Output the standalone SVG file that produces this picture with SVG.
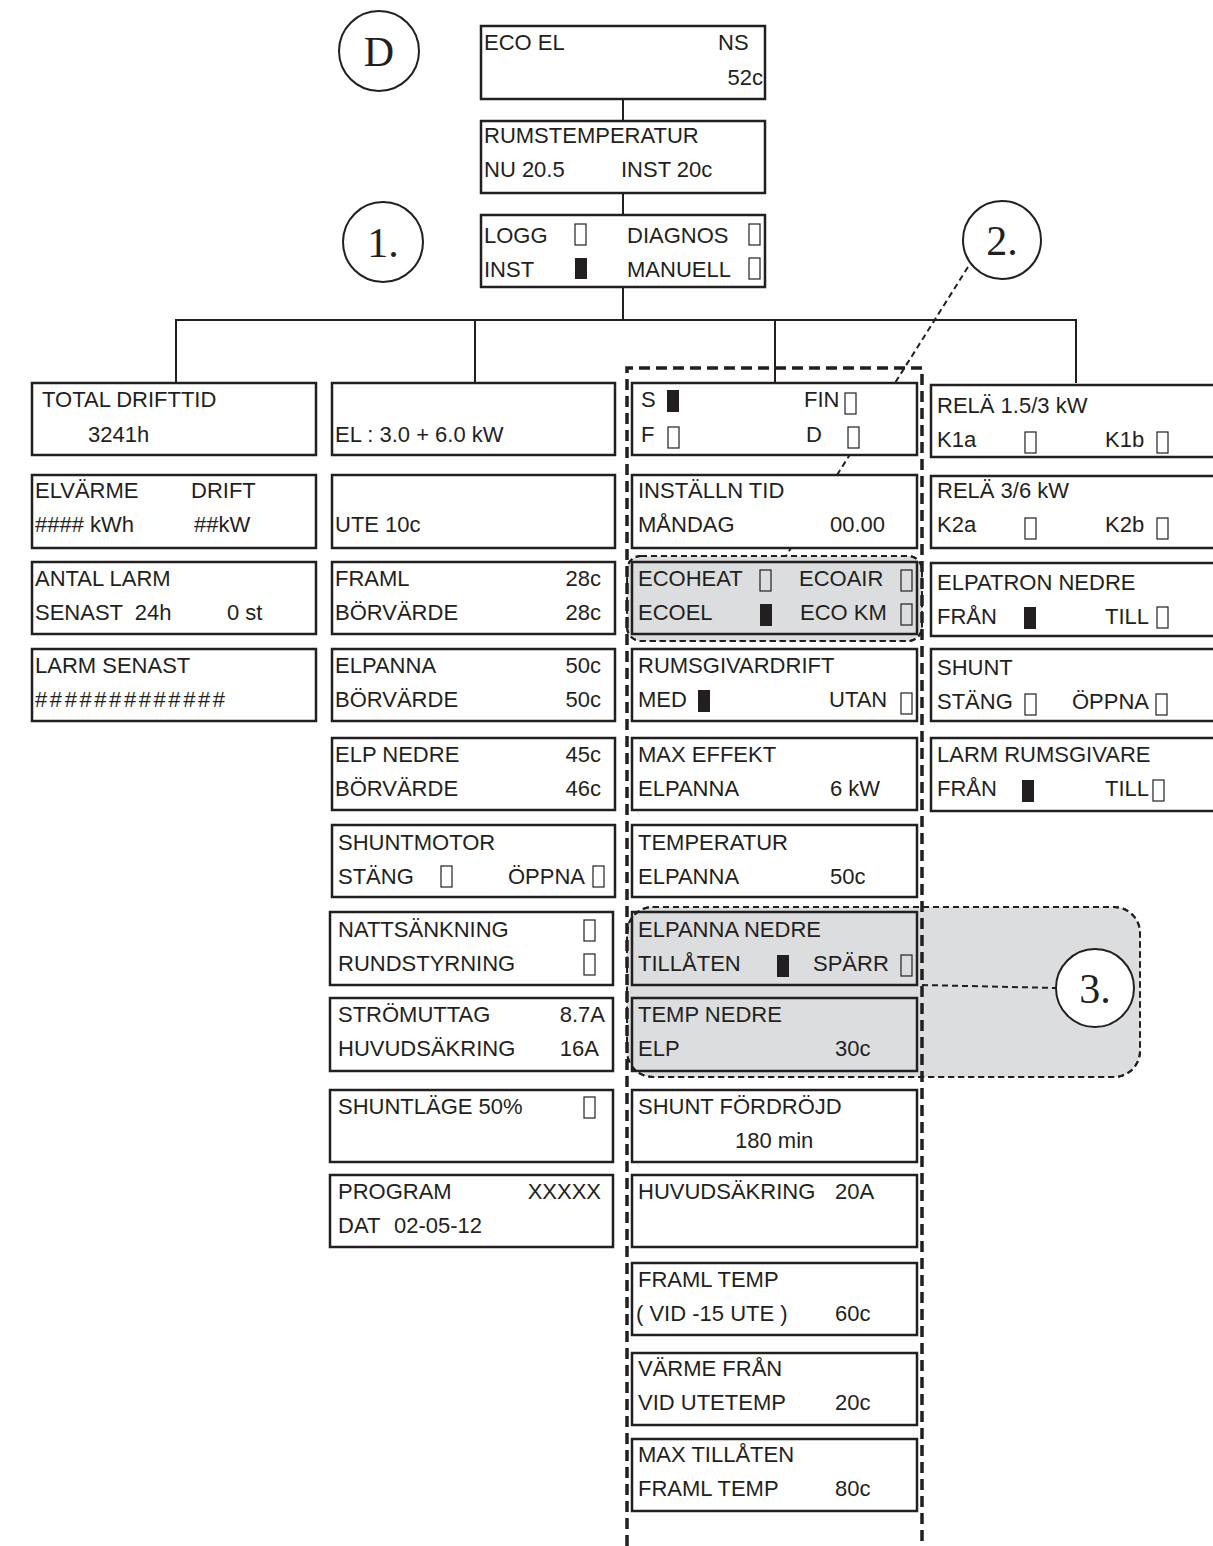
<svg xmlns="http://www.w3.org/2000/svg" width="1213" height="1546" viewBox="0 0 1213 1546">
<style>
.bg{fill:#ffffff}
.box{fill:#ffffff;stroke:#231f20;stroke-width:2.5}
.boxg{fill:none;stroke:#231f20;stroke-width:2.5}
.t{font-family:"Liberation Sans",Arial,sans-serif;font-size:22px;fill:#231f20}
.e{text-anchor:end}
.cb{fill:#ffffff;stroke:#231f20;stroke-width:1.2}
.cbg{fill:none;stroke:#231f20;stroke-width:1.2}
.cbf{fill:#231f20}
.ln{stroke:#231f20;stroke-width:2;fill:none}
.circ{fill:#ffffff;stroke:#231f20;stroke-width:2}
.ct{font-family:"Liberation Serif","Times New Roman",serif;font-size:42px;fill:#231f20;text-anchor:middle}
.region{fill:#dcdddf;stroke:#231f20;stroke-width:2;stroke-dasharray:6 4}
.bigdash{fill:none;stroke:#231f20;stroke-width:3.5;stroke-dasharray:11 6}
.thin{fill:none;stroke:#231f20;stroke-width:2;stroke-dasharray:6 4}
</style>
<rect class="bg" x="0" y="0" width="1213" height="1546"/>

<!-- shaded regions -->
<rect id="region2" class="region" x="627" y="556" width="295" height="85" rx="14"/>
<rect id="region3" class="region" x="627" y="907" width="513" height="170" rx="26"/>

<g id="connectors">
  <line class="ln" x1="623" y1="99" x2="623" y2="121"/>
  <line class="ln" x1="623" y1="193" x2="623" y2="215"/>
  <line class="ln" x1="623" y1="287" x2="623" y2="320"/>
  <line class="ln" x1="175" y1="320" x2="1077" y2="320"/>
  <line class="ln" x1="176" y1="320" x2="176" y2="383"/>
  <line class="ln" x1="475" y1="320" x2="475" y2="383"/>
  <line class="ln" x1="775" y1="320" x2="775" y2="383"/>
  <line class="ln" x1="1076" y1="320" x2="1076" y2="383"/>
  <line class="thin" x1="968" y1="267" x2="786" y2="556"/>
  <line class="thin" x1="922" y1="985" x2="1056" y2="988"/>
</g>

<!-- top -->
<g id="circleD"><circle class="circ" cx="379" cy="51" r="40"/><text class="ct" x="379" y="66">D</text></g>
<g id="circle1"><circle class="circ" cx="383" cy="242" r="40"/><text class="ct" x="383" y="257">1.</text></g>
<g id="circle2"><circle class="circ" cx="1002" cy="240" r="39"/><text class="ct" x="1002" y="255">2.</text></g>
<g id="circle3"><circle class="circ" cx="1095" cy="988" r="39"/><text class="ct" x="1095" y="1003">3.</text></g>

<g id="ecoel"><rect class="box" x="481" y="26" width="284" height="73"/>
  <text class="t" x="484" y="50">ECO EL</text><text class="t" x="718" y="50">NS</text><text class="t e" x="763" y="85">52c</text></g>
<g id="rumstemp"><rect class="box" x="481" y="121" width="284" height="72"/>
  <text class="t" x="484" y="143">RUMSTEMPERATUR</text><text class="t" x="484" y="177">NU 20.5</text><text class="t" x="621" y="177">INST 20c</text></g>
<g id="menu"><rect class="box" x="481" y="215" width="284" height="72"/>
  <text class="t" x="484" y="243">LOGG</text><rect class="cb" x="575" y="224" width="11" height="21"/>
  <text class="t" x="627" y="243">DIAGNOS</text><rect class="cb" x="749" y="224" width="11" height="21"/>
  <text class="t" x="484" y="277">INST</text><rect class="cbf" x="575" y="258" width="12" height="21"/>
  <text class="t" x="627" y="277">MANUELL</text><rect class="cb" x="749" y="258" width="11" height="21"/></g>

<!-- column 1 -->
<g id="totaldrifttid"><rect class="box" x="32" y="383" width="284" height="72"/>
  <text class="t" x="42" y="407">TOTAL DRIFTTID</text><text class="t" x="88" y="442">3241h</text></g>
<g id="elvarme"><rect class="box" x="32" y="475" width="284" height="73"/>
  <text class="t" x="35" y="498">ELVÄRME</text><text class="t" x="191" y="498">DRIFT</text>
  <text class="t" x="35" y="532">#### kWh</text><text class="t" x="194" y="532">##kW</text></g>
<g id="antallarm"><rect class="box" x="32" y="562" width="284" height="72"/>
  <text class="t" x="35" y="586">ANTAL LARM</text><text class="t" x="35" y="620" xml:space="preserve">SENAST  24h</text><text class="t" x="227" y="620">0 st</text></g>
<g id="larmsenast"><rect class="box" x="32" y="649" width="284" height="72"/>
  <text class="t" x="35" y="673">LARM SENAST</text><text class="t" x="35" y="707" textLength="190" lengthAdjust="spacing">#############</text></g>

<!-- column 2 -->
<g id="el"><rect class="box" x="332" y="383" width="283" height="72"/>
  <text class="t" x="335" y="442">EL : 3.0 + 6.0 kW</text></g>
<g id="ute"><rect class="box" x="332" y="475" width="283" height="73"/>
  <text class="t" x="335" y="532">UTE 10c</text></g>
<g id="framl"><rect class="box" x="332" y="562" width="283" height="72"/>
  <text class="t" x="335" y="586">FRAML</text><text class="t e" x="601" y="586">28c</text>
  <text class="t" x="335" y="620">BÖRVÄRDE</text><text class="t e" x="601" y="620">28c</text></g>
<g id="elpanna"><rect class="box" x="332" y="649" width="283" height="72"/>
  <text class="t" x="335" y="673">ELPANNA</text><text class="t e" x="601" y="673">50c</text>
  <text class="t" x="335" y="707">BÖRVÄRDE</text><text class="t e" x="601" y="707">50c</text></g>
<g id="elpnedre"><rect class="box" x="332" y="738" width="283" height="72"/>
  <text class="t" x="335" y="762">ELP NEDRE</text><text class="t e" x="601" y="762">45c</text>
  <text class="t" x="335" y="796">BÖRVÄRDE</text><text class="t e" x="601" y="796">46c</text></g>
<g id="shuntmotor"><rect class="box" x="332" y="825" width="283" height="72"/>
  <text class="t" x="338" y="850">SHUNTMOTOR</text>
  <text class="t" x="338" y="884">STÄNG</text><rect class="cb" x="441" y="866" width="11" height="21"/>
  <text class="t" x="508" y="884">ÖPPNA</text><rect class="cb" x="593" y="866" width="11" height="21"/></g>
<g id="nattsankning"><rect class="box" x="330" y="912" width="283" height="73"/>
  <text class="t" x="338" y="937">NATTSÄNKNING</text><rect class="cb" x="584" y="920" width="11" height="21"/>
  <text class="t" x="338" y="971">RUNDSTYRNING</text><rect class="cb" x="584" y="954" width="11" height="21"/></g>
<g id="stromuttag"><rect class="box" x="330" y="998" width="283" height="73"/>
  <text class="t" x="338" y="1022">STRÖMUTTAG</text><text class="t e" x="605" y="1022">8.7A</text>
  <text class="t" x="338" y="1056">HUVUDSÄKRING</text><text class="t e" x="599" y="1056">16A</text></g>
<g id="shuntlage"><rect class="box" x="330" y="1090" width="283" height="72"/>
  <text class="t" x="338" y="1114">SHUNTLÄGE 50%</text><rect class="cb" x="584" y="1097" width="11" height="21"/></g>
<g id="program"><rect class="box" x="330" y="1175" width="283" height="72"/>
  <text class="t" x="338" y="1199">PROGRAM</text><text class="t e" x="601" y="1199">XXXXX</text>
  <text class="t" x="338" y="1233">DAT</text><text class="t" x="394" y="1233">02-05-12</text></g>

<!-- column 3 -->
<g id="sprak"><rect class="box" x="632" y="383" width="285" height="72"/>
  <text class="t" x="641" y="407">S</text><rect class="cbf" x="667" y="390" width="12" height="22"/>
  <text class="t" x="804" y="407">FIN</text><rect class="cb" x="845" y="393" width="11" height="21"/>
  <text class="t" x="641" y="442">F</text><rect class="cb" x="668" y="427" width="11" height="21"/>
  <text class="t" x="806" y="442">D</text><rect class="cb" x="848" y="427" width="11" height="21"/></g>
<g id="installntid"><rect class="box" x="632" y="475" width="285" height="73"/>
  <text class="t" x="638" y="498">INSTÄLLN TID</text>
  <text class="t" x="638" y="532">MÅNDAG</text><text class="t" x="830" y="532">00.00</text></g>
<g id="ecotyp"><rect class="boxg" x="632" y="562" width="285" height="72"/>
  <text class="t" x="638" y="586">ECOHEAT</text><rect class="cbg" x="760" y="570" width="11" height="21"/>
  <text class="t" x="799" y="586">ECOAIR</text><rect class="cbg" x="901" y="570" width="11" height="21"/>
  <text class="t" x="638" y="620">ECOEL</text><rect class="cbf" x="760" y="604" width="12" height="22"/>
  <text class="t" x="800" y="620">ECO KM</text><rect class="cbg" x="901" y="604" width="11" height="21"/></g>
<g id="rumsgivardrift"><rect class="box" x="632" y="649" width="285" height="72"/>
  <text class="t" x="638" y="673">RUMSGIVARDRIFT</text>
  <text class="t" x="638" y="707">MED</text><rect class="cbf" x="698" y="690" width="12" height="22"/>
  <text class="t" x="829" y="707">UTAN</text><rect class="cb" x="901" y="693" width="11" height="21"/></g>
<g id="maxeffekt"><rect class="box" x="632" y="738" width="285" height="72"/>
  <text class="t" x="638" y="762">MAX EFFEKT</text>
  <text class="t" x="638" y="796">ELPANNA</text><text class="t" x="830" y="796">6 kW</text></g>
<g id="temperatur"><rect class="box" x="632" y="825" width="285" height="72"/>
  <text class="t" x="638" y="850">TEMPERATUR</text>
  <text class="t" x="638" y="884">ELPANNA</text><text class="t" x="830" y="884">50c</text></g>
<g id="elpannanedre"><rect class="boxg" x="632" y="912" width="285" height="73"/>
  <text class="t" x="638" y="937">ELPANNA NEDRE</text>
  <text class="t" x="638" y="971">TILLÅTEN</text><rect class="cbf" x="777" y="955" width="12" height="22"/>
  <text class="t" x="813" y="971">SPÄRR</text><rect class="cbg" x="901" y="955" width="11" height="21"/></g>
<g id="tempnedre"><rect class="boxg" x="632" y="998" width="285" height="73"/>
  <text class="t" x="638" y="1022">TEMP NEDRE</text>
  <text class="t" x="638" y="1056">ELP</text><text class="t" x="835" y="1056">30c</text></g>
<g id="shuntfordrojd"><rect class="box" x="632" y="1090" width="285" height="72"/>
  <text class="t" x="638" y="1114">SHUNT FÖRDRÖJD</text>
  <text class="t" x="735" y="1148">180 min</text></g>
<g id="huvudsakring"><rect class="box" x="632" y="1175" width="285" height="72"/>
  <text class="t" x="638" y="1199">HUVUDSÄKRING</text><text class="t" x="835" y="1199">20A</text></g>
<g id="framltemp"><rect class="box" x="632" y="1263" width="285" height="72"/>
  <text class="t" x="638" y="1287">FRAML TEMP</text>
  <text class="t" x="636" y="1321">( VID -15 UTE )</text><text class="t" x="835" y="1321">60c</text></g>
<g id="varmefran"><rect class="box" x="632" y="1353" width="285" height="72"/>
  <text class="t" x="638" y="1376">VÄRME FRÅN</text>
  <text class="t" x="638" y="1410">VID UTETEMP</text><text class="t" x="835" y="1410">20c</text></g>
<g id="maxtillaten"><rect class="box" x="632" y="1439" width="285" height="72"/>
  <text class="t" x="638" y="1462">MAX TILLÅTEN</text>
  <text class="t" x="638" y="1496">FRAML TEMP</text><text class="t" x="835" y="1496">80c</text></g>

<!-- column 4 -->
<g id="rela1"><rect class="box" x="931" y="385" width="300" height="72"/>
  <text class="t" x="937" y="413">RELÄ 1.5/3 kW</text>
  <text class="t" x="937" y="447">K1a</text><rect class="cb" x="1025" y="432" width="11" height="21"/>
  <text class="t" x="1105" y="447">K1b</text><rect class="cb" x="1157" y="432" width="11" height="21"/></g>
<g id="rela2"><rect class="box" x="931" y="476" width="300" height="72"/>
  <text class="t" x="937" y="498">RELÄ 3/6 kW</text>
  <text class="t" x="937" y="532">K2a</text><rect class="cb" x="1025" y="518" width="11" height="21"/>
  <text class="t" x="1105" y="532">K2b</text><rect class="cb" x="1157" y="518" width="11" height="21"/></g>
<g id="elpatron"><rect class="box" x="931" y="563" width="300" height="73"/>
  <text class="t" x="937" y="590">ELPATRON NEDRE</text>
  <text class="t" x="937" y="624">FRÅN</text><rect class="cbf" x="1024" y="607" width="12" height="22"/>
  <text class="t" x="1105" y="624">TILL</text><rect class="cb" x="1157" y="607" width="11" height="21"/></g>
<g id="shunt"><rect class="box" x="931" y="649" width="300" height="72"/>
  <text class="t" x="937" y="675">SHUNT</text>
  <text class="t" x="937" y="709">STÄNG</text><rect class="cb" x="1025" y="694" width="11" height="21"/>
  <text class="t" x="1072" y="709">ÖPPNA</text><rect class="cb" x="1156" y="694" width="11" height="21"/></g>
<g id="larmrumsgivare"><rect class="box" x="931" y="738" width="300" height="73"/>
  <text class="t" x="937" y="762">LARM RUMSGIVARE</text>
  <text class="t" x="937" y="796">FRÅN</text><rect class="cbf" x="1022" y="780" width="12" height="22"/>
  <text class="t" x="1105" y="796">TILL</text><rect class="cb" x="1153" y="780" width="11" height="21"/></g>

<!-- dashed group frame and region outlines -->
<g id="frames">
  <path class="bigdash" d="M627,1546 V368 H922 V1546"/>
  <rect class="thin" x="627" y="556" width="295" height="85" rx="14"/>
  <rect class="thin" x="627" y="907" width="513" height="170" rx="26"/>
</g>
</svg>
